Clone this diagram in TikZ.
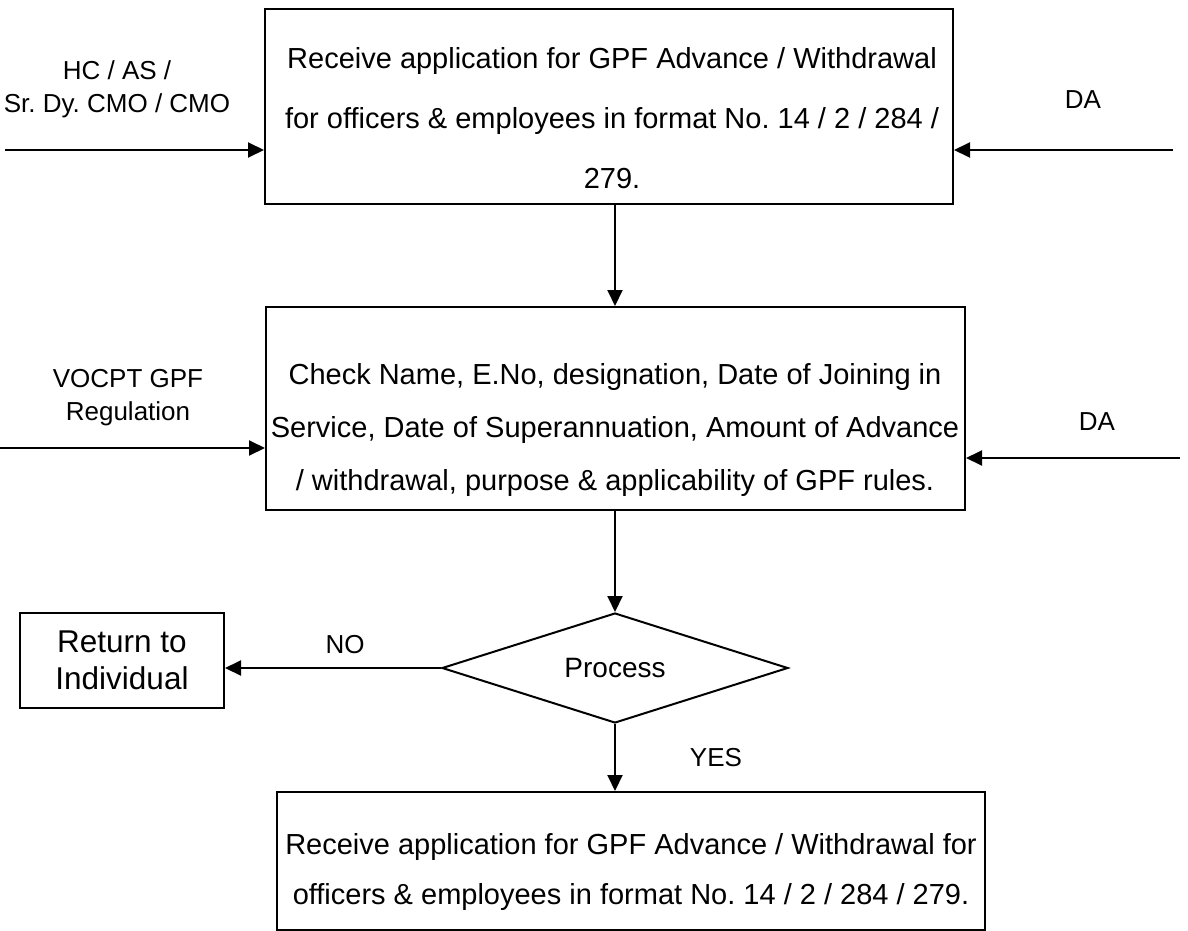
\documentclass[tikz,border=0pt]{standalone}
\usepackage{fontspec}
\setmainfont{Liberation Sans}
\usetikzlibrary{arrows.meta,shapes.geometric}
\frenchspacing

\begin{document}
\begin{tikzpicture}[x=1pt,y=-1pt,
  stepbox/.style={draw=black,line width=2pt,rectangle,inner sep=0pt},
  maintxt/.style={align=center,inner sep=0pt,font=\fontsize{29}{#1}\selectfont},
  lbl/.style={align=center,inner sep=0pt,font=\fontsize{26}{33}\selectfont},
  arr/.style={line width=2pt,-{Triangle[length=16pt,width=15pt]}}
]
\useasboundingbox (0,0) rectangle (1188,931);

% process boxes
\node[stepbox,minimum width=688pt,minimum height=195pt] (b1) at (609,106.5) {};
\node[maintxt=60] (b1t) at (612,118) {Receive application for GPF Advance / Withdrawal\\for officers \& employees in format No. 14 / 2 / 284 /\\279.};

\node[stepbox,minimum width=699pt,minimum height=203pt] (b2) at (615.5,408.5) {};
\node[maintxt=53] (b2t) at (615,430) {Check Name, E.No, designation, Date of Joining in\\Service, Date of Superannuation, Amount of Advance\\/ withdrawal, purpose \& applicability of GPF rules.};

\node[stepbox,minimum width=708pt,minimum height=138pt] (b3) at (631,861) {};
\node[maintxt=50] (b3t) at (631,872) {Receive application for GPF Advance / Withdrawal for\\officers \& employees in format No. 14 / 2 / 284 / 279.};

% decision
\node[draw=black,line width=2pt,shape=diamond,aspect=3.14,inner sep=0pt,
      minimum width=346pt,minimum height=110pt,
      font=\fontsize{28}{34}\selectfont] (d) at (615,668) {Process};

\node[stepbox,minimum width=204pt,minimum height=95pt,align=center,
      font=\fontsize{31.5}{37}\selectfont] (ret) at (122,660.5) {Return to\\Individual};

% side inputs
\node[lbl] (hc) at (117,89.5) {HC / AS /\\Sr. Dy. CMO / CMO};
\node[lbl] (da1) at (1083,100) {DA};
\node[lbl] (voc) at (128,397.5) {VOCPT GPF\\Regulation};
\node[lbl] (da2) at (1097,422) {DA};
\node[lbl] (no) at (345,645) {NO};
\node[lbl] (yes) at (716,758) {YES};

\coordinate (l1) at (5,150);
\coordinate (r1) at (1173,150);
\coordinate (l2) at (0,448);
\coordinate (r2) at (1180,458);

% connectors
\draw[arr] (l1) -- (l1 -| b1.west);
\draw[arr] (r1) -- (r1 -| b1.east);
\draw[arr] (l2) -- (l2 -| b2.west);
\draw[arr] (r2) -- (r2 -| b2.east);
\draw[arr] (b1.south -| d.north) -- (b2.north -| d.north);
\draw[arr] (b2.south -| d.north) -- (d.north);
\draw[arr] (d.west) -- (d.west -| ret.east);
\draw[arr] (d.south) -- (d.south |- b3.north);
\end{tikzpicture}
\end{document}
